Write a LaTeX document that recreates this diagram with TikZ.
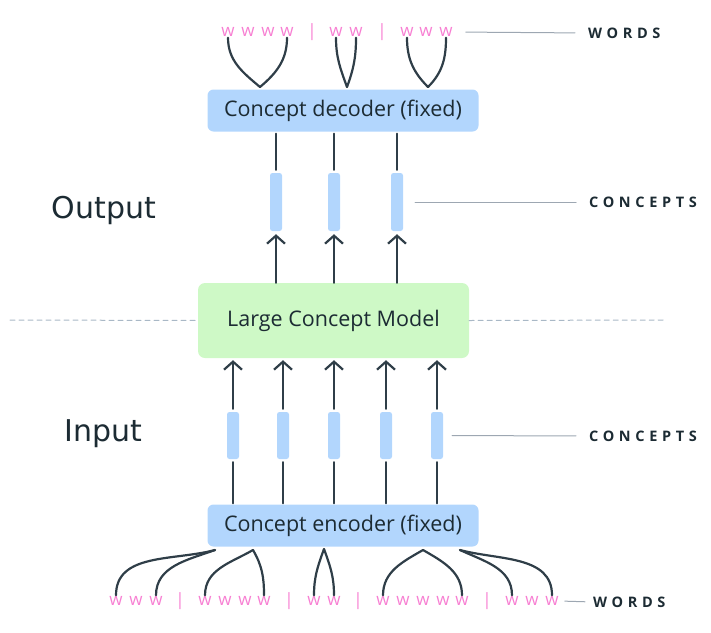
\documentclass[tikz,border=0pt]{standalone}
\usepackage{fontspec}
\setmainfont{Open Sans}
\newfontfamily\sidefont{DejaVu Sans}
\usetikzlibrary{arrows.meta}
\definecolor{wordpink}{HTML}{F77FD2}
\definecolor{linedark}{HTML}{2F3E48}
\definecolor{boxblue}{HTML}{B2D6FD}
\definecolor{boxgreen}{HTML}{CEF9C6}
\definecolor{leadgray}{HTML}{9DA7B2}
\definecolor{dashgray}{HTML}{A9B8C6}
\definecolor{textdark}{HTML}{1C2B33}
\begin{document}
\begin{tikzpicture}[x=1pt, y=-1pt, line cap=round,
  coder box/.style={rounded corners=6pt, fill=boxblue, text=textdark, minimum width=271pt, minimum height=42pt, inner sep=0pt, font=\fontsize{21.5}{23}\selectfont},
  model box/.style={rounded corners=7pt, fill=boxgreen, text=textdark, minimum width=271pt, minimum height=75pt, inner sep=0pt, font=\fontsize{21.5}{23}\selectfont},
  concept bar/.style={rounded corners=2.5pt, fill=boxblue, minimum width=12pt, inner sep=0pt},
  word/.style={text=wordpink, inner sep=1pt, font=\fontsize{17}{17}\selectfont},
  side label/.style={text=textdark, font=\sidefont\fontsize{30}{32}\selectfont},
  tag/.style={text=textdark, anchor=west, inner sep=0pt, font=\fontsize{14.5}{16}\selectfont\bfseries\addfontfeature{LetterSpace=32}},
  link/.style={draw=linedark, line width=2.2pt},
  flow/.style={link, -{Straight Barb[length=8pt, width=18pt]}},
  leader/.style={draw=leadgray, line width=1pt},
  divider/.style={draw=dashgray, line width=1pt, dash pattern=on 5pt off 4pt}]
\useasboundingbox (0,0) rectangle (711,632);

\node[coder box] (dec) at (343,110.5) {Concept decoder (fixed)};
\node[model box] (lcm) at (333.5,320.5) {Large Concept Model};
\node[coder box] (enc) at (343,525.5) {Concept encoder (fixed)};

\node[side label] (out) at (104,210) {Output};
\node[side label] (inp) at (103,434) {Input};

\node[concept bar, minimum height=58pt] (co1) at (276,202) {};
\node[concept bar, minimum height=58pt] (co2) at (334,202) {};
\node[concept bar, minimum height=58pt] (co3) at (397,202) {};

\node[concept bar, minimum height=47pt] (ci1) at (233,435.5) {};
\node[concept bar, minimum height=47pt] (ci2) at (283,435.5) {};
\node[concept bar, minimum height=47pt] (ci3) at (334,435.5) {};
\node[concept bar, minimum height=47pt] (ci4) at (386,435.5) {};
\node[concept bar, minimum height=47pt] (ci5) at (437,435.5) {};

\node[tag] (tw) at (588,33) {WORDS};
\node[tag] (tco) at (589,202) {CONCEPTS};
\node[tag] (tci) at (589,436) {CONCEPTS};
\node[tag] (bw) at (593,602) {WORDS};

\node[word] (a1) at (228,32) {w};
\node[word] (a2) at (248,32) {w};
\node[word] (a3) at (268,32) {w};
\node[word] (a4) at (287,32) {w};
\node[word] (as1) at (312,32) {|};
\node[word] (a5) at (336,32) {w};
\node[word] (a6) at (356,32) {w};
\node[word] (as2) at (382,32) {|};
\node[word] (a7) at (407,32) {w};
\node[word] (a8) at (426,32) {w};
\node[word] (a9) at (446,32) {w};

\node[word] (b1) at (116,601) {w};
\node[word] (b2) at (136,601) {w};
\node[word] (b3) at (156,601) {w};
\node[word] (bs1) at (180,601) {|};
\node[word] (b4) at (205,601) {w};
\node[word] (b5) at (225,601) {w};
\node[word] (b6) at (245,601) {w};
\node[word] (b7) at (264,601) {w};
\node[word] (bs2) at (289,601) {|};
\node[word] (b8) at (314,601) {w};
\node[word] (b9) at (334,601) {w};
\node[word] (bs3) at (358,601) {|};
\node[word] (b10) at (383,601) {w};
\node[word] (b11) at (403,601) {w};
\node[word] (b12) at (423,601) {w};
\node[word] (b13) at (443,601) {w};
\node[word] (b14) at (462,601) {w};
\node[word] (bs4) at (487,601) {|};
\node[word] (b15) at (512,601) {w};
\node[word] (b16) at (532,601) {w};
\node[word] (b17) at (552,601) {w};

\coordinate (dj1) at (260,87);
\coordinate (dj2) at (347,87);
\coordinate (dj3) at (428,87);
\coordinate (ej1) at (215,550);
\coordinate (ej2) at (253,550);
\coordinate (ej3) at (324,549);
\coordinate (ej4) at (423,550);
\coordinate (ej5) at (460,550);
\coordinate (dl) at (10,320);
\coordinate (dr) at (665,320);

\draw[link] (a1.south) to[out=-90, in=140] (dj1);
\draw[link] (a4.south) to[out=-90, in=40] (dj1);
\draw[link] (a5.south) to[out=-90, in=110] (dj2);
\draw[link] (a6.south) to[out=-90, in=70] (dj2);
\draw[link] (a7.south) to[out=-90, in=135] (dj3);
\draw[link] (a9.south) to[out=-90, in=45] (dj3);

\draw[link] (b1.north) to[out=90, in=195] (ej1);
\draw[link] (b3.north) to[out=90, in=200] (ej1);
\draw[link] (b4.north) to[out=90, in=210] (ej2);
\draw[link] (b7.north) to[out=90, in=-60] (ej2);
\draw[link] (b8.north) to[out=90, in=-110] (ej3);
\draw[link] (b9.north) to[out=90, in=-70] (ej3);
\draw[link] (b10.north) to[out=90, in=210] (ej4);
\draw[link] (b14.north) to[out=90, in=-30] (ej4);
\draw[link] (b15.north) to[out=90, in=-25] (ej5);
\draw[link] (b17.north) to[out=90, in=-15] (ej5);

\draw[link, shorten <=2pt, shorten >=3pt] (dec.south -| co1) -- (co1.north);
\draw[link, shorten <=2pt, shorten >=3pt] (dec.south -| co2) -- (co2.north);
\draw[link, shorten <=2pt, shorten >=3pt] (dec.south -| co3) -- (co3.north);
\draw[flow, shorten >=3pt] (lcm.north -| co1) -- (co1.south);
\draw[flow, shorten >=3pt] (lcm.north -| co2) -- (co2.south);
\draw[flow, shorten >=3pt] (lcm.north -| co3) -- (co3.south);

\draw[link, shorten <=1pt, shorten >=3pt] (enc.north -| ci1) -- (ci1.south);
\draw[link, shorten <=1pt, shorten >=3pt] (enc.north -| ci2) -- (ci2.south);
\draw[link, shorten <=1pt, shorten >=3pt] (enc.north -| ci3) -- (ci3.south);
\draw[link, shorten <=1pt, shorten >=3pt] (enc.north -| ci4) -- (ci4.south);
\draw[link, shorten <=1pt, shorten >=3pt] (enc.north -| ci5) -- (ci5.south);
\draw[flow, shorten <=3pt, shorten >=2pt] (ci1.north) -- (lcm.south -| ci1);
\draw[flow, shorten <=3pt, shorten >=2pt] (ci2.north) -- (lcm.south -| ci2);
\draw[flow, shorten <=3pt, shorten >=2pt] (ci3.north) -- (lcm.south -| ci3);
\draw[flow, shorten <=3pt, shorten >=2pt] (ci4.north) -- (lcm.south -| ci4);
\draw[flow, shorten <=3pt, shorten >=2pt] (ci5.north) -- (lcm.south -| ci5);

\draw[leader, shorten <=12pt, shorten >=13pt] (a9.east) -- (tw.west);
\draw[leader, shorten <=12pt, shorten >=13pt] (co3.east) -- (tco.west);
\draw[leader, shorten <=9pt, shorten >=13pt] (ci5.east) -- (tci.west);
\draw[leader, shorten <=5pt, shorten >=8pt] (b17.east) -- (bw.west);

\draw[divider] (dl) -- (lcm.west);
\draw[divider] (lcm.east) -- (dr);
\end{tikzpicture}
\end{document}
